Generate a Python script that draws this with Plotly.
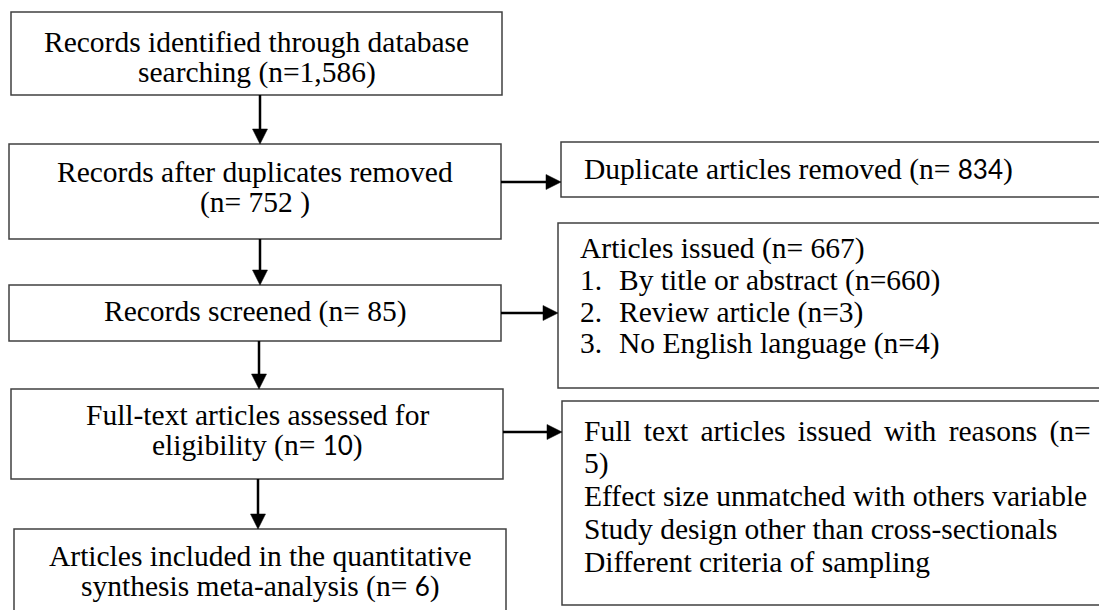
import plotly.graph_objects as go

# ---------------- data ----------------
stage_counts = [1586, 752, 85, 10, 6]
excluded_counts = [834, 667, 5]
reason_labels = ["By title or abstract", "Review article", "No English language"]
reason_counts = [660, 3, 4]
fulltext_reasons = [
    "Effect size unmatched with others variable",
    "Study design other than cross-sectionals",
    "Different criteria of sampling",
]

SANS = "<span style='font-family:Lato;font-size:26px'>{}</span>"

main_lines = [
    ["Records identified through database", "searching (n={:,})".format(stage_counts[0])],
    ["Records after duplicates removed", "(n= {} )".format(stage_counts[1])],
    ["Records screened (n= {})".format(stage_counts[2])],
    ["Full-text articles assessed for", "eligibility (n= " + SANS.format(stage_counts[3]) + ")"],
    ["Articles included in the quantitative",
     "synthesis meta-analysis (n= " + SANS.format(stage_counts[4]) + ")"],
]

# ---------------- geometry (pixels) ----------------
W, H = 1099, 610
main_boxes = [  # x0, x1, y0, y1
    (11, 502, 12, 95),
    (9, 501, 144, 239),
    (9, 501, 285, 341),
    (11, 503, 389, 479),
    (14, 506, 529, 625),
]
main_baselines = [
    [51, 81],
    [181, 211],
    [320],
    [424, 454],
    [565, 595],
]
side_boxes = [
    (561, 1110, 142, 197),
    (558, 1110, 223, 388),
    (562, 1110, 401, 605),
]
arrow_x = [260, 260, 259, 258]
right_arrow_y = [182, 313, 432]

FONT = "Liberation Serif"
FS = 29.5
BOX_COL = "#404040"

fig = go.Figure()
shapes = []
annotations = []

for (x0, x1, y0, y1) in main_boxes + side_boxes:
    shapes.append(dict(type="rect", xref="x", yref="y", x0=x0, x1=x1, y0=y0, y1=y1,
                       line=dict(color=BOX_COL, width=1.5), fillcolor="rgba(0,0,0,0)"))

def down_arrow(x, y0, y1):
    shapes.append(dict(type="line", xref="x", yref="y", x0=x, x1=x, y0=y0, y1=y1 - 12,
                       line=dict(color="black", width=2.5)))
    shapes.append(dict(type="path", xref="x", yref="y",
                       path=f"M {x-7.5},{y1-15} L {x+7.5},{y1-15} L {x},{y1} Z",
                       fillcolor="black", line=dict(color="black", width=0.5)))

def right_arrow(y, x0, x1):
    shapes.append(dict(type="line", xref="x", yref="y", x0=x0, x1=x1 - 12, y0=y, y1=y,
                       line=dict(color="black", width=2.5)))
    shapes.append(dict(type="path", xref="x", yref="y",
                       path=f"M {x1-15},{y-7.5} L {x1-15},{y+7.5} L {x1},{y} Z",
                       fillcolor="black", line=dict(color="black", width=0.5)))

for i in range(4):
    down_arrow(arrow_x[i], main_boxes[i][3], main_boxes[i + 1][2])

right_arrow(right_arrow_y[0], main_boxes[1][1], side_boxes[0][0])
right_arrow(right_arrow_y[1], main_boxes[2][1], side_boxes[1][0])
right_arrow(right_arrow_y[2], main_boxes[3][1], side_boxes[2][0])

OFF = 9  # baseline -> annotation middle

def text(x, baseline, s, anchor="center"):
    annotations.append(dict(xref="x", yref="y", x=x, y=baseline - OFF, text=s,
                            showarrow=False, xanchor=anchor, yanchor="middle",
                            font=dict(family=FONT, size=FS, color="black")))

for (x0, x1, y0, y1), lines, bls in zip(main_boxes, main_lines, main_baselines):
    cx = (x0 + x1) / 2
    for s, b in zip(lines, bls):
        text(cx, b, s)

# side box 1
text(582, 178, "Duplicate articles removed (n= " + SANS.format(excluded_counts[0]) + ")", "left")

# side box 2
text(578, 257, "Articles issued (n= {})".format(excluded_counts[1]), "left")
for k, (lab, c, b) in enumerate(zip(reason_labels, reason_counts, [289, 321, 352])):
    text(578, b, f"{k+1}.", "left")
    text(617, b, f"{lab} (n={c})", "left")

# side box 3 (first line justified in the original)
JS = " \u200a\u200a"
text(582, 440, JS.join("Full text articles issued with reasons (n=".split(" ")), "left")
text(582, 472, "{})".format(excluded_counts[2]), "left")
for s, b in zip(fulltext_reasons, [505, 538, 571]):
    text(582, b, s, "left")

fig.update_layout(
    width=W, height=H,
    margin=dict(l=0, r=0, t=0, b=0),
    paper_bgcolor="white", plot_bgcolor="white",
    xaxis=dict(range=[0, W], visible=False, fixedrange=True),
    yaxis=dict(range=[H, 0], visible=False, fixedrange=True),
    shapes=shapes, annotations=annotations, showlegend=False,
)
fig.write_html("out.html", config={"displayModeBar": False},
               post_script="document.body.style.margin='0px';document.body.style.overflow='hidden';")
